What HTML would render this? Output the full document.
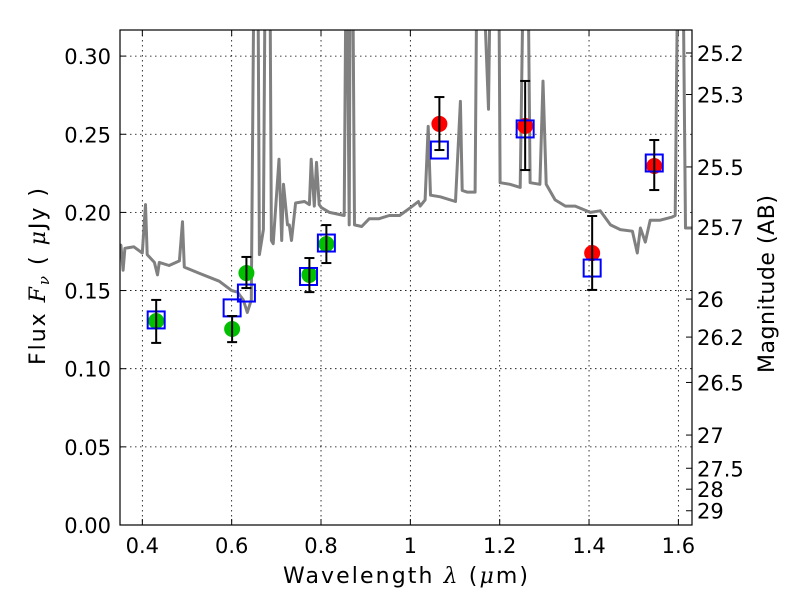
<!DOCTYPE html>
<html><head><meta charset="utf-8"><style>
body{margin:0;background:#fff}
svg text{font-family:"DejaVu Sans","Liberation Sans",sans-serif}
</style></head><body>
<svg id="chart" width="800" height="600" xmlns="http://www.w3.org/2000/svg"></svg>
<script>
const specLam=[0.348,0.352,0.357,0.361,0.381,0.4,0.407,0.411,0.427,0.434,0.438,0.460,0.483,0.490,0.494,0.528,0.572,0.6,0.613,0.626,0.635,0.644,0.651,0.658,0.662,0.671,0.676,0.685,0.689,0.693,0.706,0.712,0.716,0.725,0.729,0.734,0.743,0.763,0.774,0.778,0.785,0.790,0.796,0.801,0.819,0.852,0.857,0.863,0.866,0.870,0.875,0.891,0.908,0.930,0.953,0.976,1.0,1.018,1.022,1.033,1.040,1.045,1.067,1.101,1.112,1.116,1.127,1.145,1.150,1.152,1.157,1.175,1.181,1.197,1.201,1.223,1.246,1.255,1.262,1.268,1.290,1.297,1.304,1.324,1.347,1.369,1.403,1.425,1.448,1.470,1.497,1.508,1.515,1.526,1.537,1.559,1.586,1.593,1.600,1.609,1.616,1.631];
const specFlux=[0.176,0.179,0.163,0.177,0.178,0.174,0.205,0.173,0.168,0.160,0.168,0.166,0.169,0.194,0.165,0.161,0.156,0.150,0.149,0.144,0.136,0.144,0.4,0.4,0.173,0.189,0.4,0.4,0.182,0.18,0.234,0.182,0.218,0.192,0.192,0.182,0.206,0.207,0.205,0.234,0.204,0.232,0.205,0.203,0.200,0.198,0.4,0.192,0.4,0.4,0.192,0.191,0.196,0.196,0.198,0.198,0.203,0.207,0.204,0.208,0.255,0.211,0.210,0.207,0.271,0.214,0.213,0.213,0.4,0.4,0.4,0.266,0.4,0.4,0.219,0.218,0.216,0.4,0.4,0.219,0.218,0.284,0.218,0.208,0.204,0.204,0.200,0.201,0.192,0.189,0.188,0.174,0.190,0.181,0.195,0.195,0.197,0.198,0.4,0.4,0.190,0.190];
const greenLam=[0.431,0.601,0.633,0.774,0.812];
const greenFlux=[0.1305,0.1254,0.1612,0.160,0.1798];
const greenHi=[0.144,0.1337,0.1715,0.1708,0.1919];
const greenLo=[0.1165,0.117,0.1516,0.149,0.1676];
const redLam=[1.065,1.257,1.407,1.546];
const redFlux=[0.2566,0.2553,0.174,0.2297];
const redHi=[0.2738,0.2841,0.1977,0.2463];
const redLo=[0.2399,0.2271,0.1504,0.2143];
const modelLam=[0.431,0.601,0.633,0.772,0.812,1.065,1.257,1.407,1.546];
const modelFlux=[0.1312,0.1389,0.1484,0.159,0.1804,0.2399,0.2534,0.1644,0.2316];
const xTicks=[0.4,0.6,0.8,1.0,1.2,1.4,1.6];
const xTickLabels=["0.4","0.6","0.8","1","1.2","1.4","1.6"];
const yTicks=[0,0.05,0.10,0.15,0.20,0.25,0.30];
const yTickLabels=["0.00","0.05","0.10","0.15","0.20","0.25","0.30"];
const magTicks=[25.2,25.3,25.5,25.7,26,26.2,26.5,27,27.5,28,29];

const L=120,R=692,T=30,B=525;
const xmin=0.35,xmax=0.35+(R-L)/446.7,ymin=0,ymax=(B-T)/1563;
const X=v=>L+(v-xmin)/(xmax-xmin)*(R-L);
const Y=v=>B-(v-ymin)/(ymax-ymin)*(B-T);
const svg=document.getElementById('chart');
const NS='http://www.w3.org/2000/svg';
function mk(tag,attrs,parent){const e=document.createElementNS(NS,tag);for(const k in attrs)e.setAttribute(k,attrs[k]);(parent||svg).appendChild(e);return e;}

const defs=mk('defs',{});const cp=mk('clipPath',{id:'clip'},defs);mk('rect',{x:L,y:T,width:R-L,height:B-T},cp);

xTicks.forEach((t,i)=>{
 const g=mk('line',{x1:X(t),x2:X(t),y1:T,y2:B,stroke:'#000','stroke-width':0.8,'stroke-dasharray':'1.5,3.5'});
 
 
 const tk=mk('line',{x1:X(t),x2:X(t),y1:B,y2:B-6,stroke:'#000','stroke-width':1});
 
 
 mk('line',{x1:X(t),x2:X(t),y1:T,y2:T+6,stroke:'#000','stroke-width':1});
 const tx=mk('text',{x:X(t),y:B+28,'font-size':21,'text-anchor':'middle'});tx.textContent=xTickLabels[i];
 
 
});
yTicks.forEach((t,i)=>{
 const g=mk('line',{x1:L,x2:R,y1:Y(t),y2:Y(t),stroke:'#000','stroke-width':0.8,'stroke-dasharray':'1.5,3.5'});
 
 
 mk('line',{x1:L,x2:L+6,y1:Y(t),y2:Y(t),stroke:'#000','stroke-width':1});
 const tx=mk('text',{x:L-9,y:Y(t)+8,'font-size':21,'text-anchor':'end'});tx.textContent=yTickLabels[i];
 
 
});
magTicks.forEach(m=>{
 const f=Math.pow(10,(23.9-m)/2.5);
 mk('line',{x1:R,x2:R-6,y1:Y(f),y2:Y(f),stroke:'#000','stroke-width':1});
 const tx=mk('text',{x:R+5,y:Y(f)+8,'font-size':21});tx.textContent=String(m);
 
 
});

const pts=specLam.map((l,i)=>X(l).toFixed(1)+','+Y(specFlux[i]).toFixed(1)).join(' ');
const sp=mk('polyline',{points:pts,fill:'none',stroke:'#808080','stroke-width':3,'stroke-linejoin':'round','clip-path':'url(#clip)'});



function errbar(x,lo,hi){
 const g=mk('g',{stroke:'#000','stroke-width':2});
 
 
 mk('line',{x1:X(x),x2:X(x),y1:Y(lo),y2:Y(hi)},g);
 mk('line',{x1:X(x)-5,x2:X(x)+5,y1:Y(lo),y2:Y(lo)},g);
 mk('line',{x1:X(x)-5,x2:X(x)+5,y1:Y(hi),y2:Y(hi)},g);
}
greenLam.forEach((l,i)=>{
 const c=mk('circle',{cx:X(l),cy:Y(greenFlux[i]),r:8,fill:'#00c000'});
 
 
});
redLam.forEach((l,i)=>{
 const c=mk('circle',{cx:X(l),cy:Y(redFlux[i]),r:8,fill:'#ff0000'});
 
 
});
modelLam.forEach((l,i)=>{
 const s=mk('rect',{x:X(l)-8.5,y:Y(modelFlux[i])-8.5,width:17,height:17,fill:'none',stroke:'#0000ff','stroke-width':2});
 
 
});
greenLam.forEach((l,i)=>errbar(l,greenLo[i],greenHi[i]));
redLam.forEach((l,i)=>errbar(l,redLo[i],redHi[i]));

const fr=mk('rect',{x:L,y:T,width:R-L,height:B-T,fill:'none',stroke:'#000','stroke-width':1.2});


</script>
<svg style="position:absolute;left:0;top:0" width="800" height="600" xmlns="http://www.w3.org/2000/svg">
<text x="283" y="583" font-size="22" textLength="245" lengthAdjust="spacing" font-family="DejaVu Sans, sans-serif">Wavelength  <tspan font-family="DejaVu Serif, serif" font-style="italic">λ</tspan> (<tspan font-family="DejaVu Serif, serif" font-style="italic">μ</tspan>m)</text>
<text transform="translate(45,365) rotate(-90)" font-size="22" textLength="177" lengthAdjust="spacing" font-family="DejaVu Sans, sans-serif">Flux  <tspan font-family="DejaVu Serif, serif" font-style="italic">F<tspan font-size="15" dy="4">ν</tspan></tspan><tspan dy="-4">  (  </tspan><tspan font-family="DejaVu Serif, serif" font-style="italic">μ</tspan>Jy )</text>
<text transform="translate(774,373) rotate(-90)" font-size="22" textLength="178" lengthAdjust="spacing" font-family="DejaVu Sans, sans-serif">Magnitude (AB)</text>
</svg>
</body></html>
